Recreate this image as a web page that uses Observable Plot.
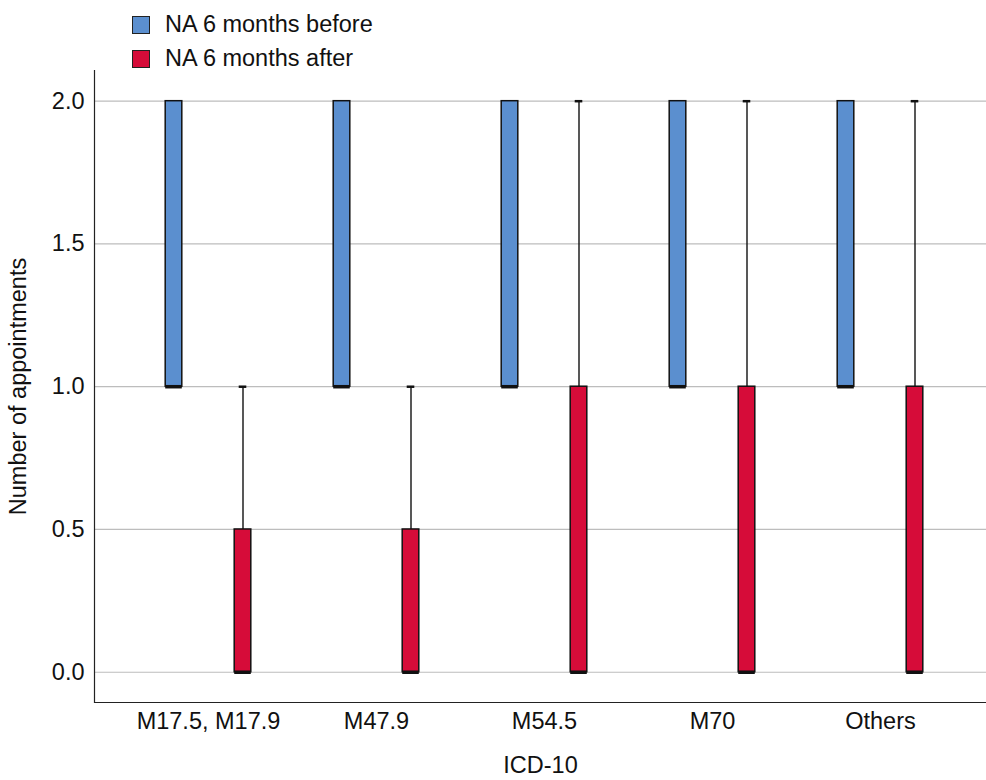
<!DOCTYPE html>
<html>
<head>
<meta charset="utf-8">
<script src="https://cdn.jsdelivr.net/npm/d3@7"></script>
<script src="https://cdn.jsdelivr.net/npm/@observablehq/plot@0.6"></script>
<style>
  html, body { margin: 0; padding: 0; background: #fff; }
  body { width: 986px; height: 780px; overflow: hidden; font-family: "Liberation Sans", Arial, sans-serif; color: #111; }
  #legend { position: relative; height: 62px; }
  .sw { position: absolute; left: 132px; width: 16px; height: 16px; border: 1.5px solid #222; }
  .lt { position: absolute; left: 165px; font-size: 23.5px; line-height: 24px; }
</style>
</head>
<body>
<div id="legend"></div>
<div id="chart"></div>
<script>
const categories = ["M17.5, M17.9", "M47.9", "M54.5", "M70", "Others"];
const seriesNames = ["NA 6 months before", "NA 6 months after"];
const seriesColors = ["#5B8FCF", "#D60C39"];
// box statistics per category
const beforeQ1 = [1, 1, 1, 1, 1];
const beforeMedian = [1, 1, 1, 1, 1];
const beforeQ3 = [2, 2, 2, 2, 2];
const beforeMax = [2, 2, 2, 2, 2];
const afterQ1 = [0, 0, 0, 0, 0];
const afterMedian = [0, 0, 0, 0, 0];
const afterQ3 = [0.5, 0.5, 1, 1, 1];
const afterMax = [1, 1, 2, 2, 2];
const yTicks = [0, 0.5, 1, 1.5, 2];
const xLabel = "ICD-10";
const yLabel = "Number of appointments";

// legend
const legend = document.getElementById("legend");
seriesNames.forEach((name, i) => {
  const sw = document.createElement("div");
  sw.className = "sw";
  sw.style.top = (16 + i * 34) + "px";
  sw.style.background = seriesColors[i];
  legend.appendChild(sw);
  const t = document.createElement("div");
  t.className = "lt";
  t.style.top = (12 + i * 34) + "px";
  t.textContent = name;
  legend.appendChild(t);
});

const series = [
  {q1: beforeQ1, med: beforeMedian, q3: beforeQ3, max: beforeMax},
  {q1: afterQ1, med: afterMedian, q3: afterQ3, max: afterMax}
];

const half = 84.2;      // half band width
const offset = 34.5;    // distance of each box from the band centre
const boxHalf = 8.5;
const capHalf = 4;

const marks = [
  Plot.ruleY(yTicks, {stroke: "#bdbdbd", strokeWidth: 1.2}),
  Plot.ruleY([-0.106], {stroke: "#222", strokeWidth: 1.2}),
  Plot.frame({anchor: "left", stroke: "#222", strokeWidth: 1.2})
];

series.forEach((s, si) => {
  const rows = categories.map((c, i) => ({cat: c, q1: s.q1[i], med: s.med[i], q3: s.q3[i], max: s.max[i]}));
  const dx = si === 0 ? -offset : offset;
  const whisk = rows.filter(r => r.max > r.q3);
  marks.push(
    Plot.ruleX(whisk, {x: "cat", y1: "q3", y2: "max", dx, stroke: "#111", strokeWidth: 1.4}),
    Plot.tickY(whisk, {x: "cat", y: "max", dx, insetLeft: half - capHalf, insetRight: half - capHalf, stroke: "#111", strokeWidth: 2.5}),
    Plot.barY(rows, {x: "cat", y1: "q1", y2: "q3", dx, insetLeft: half - boxHalf, insetRight: half - boxHalf, fill: seriesColors[si], stroke: "#111", strokeWidth: 1.5}),
    Plot.tickY(rows, {x: "cat", y: "med", dx, insetLeft: half - boxHalf, insetRight: half - boxHalf, stroke: "#111", strokeWidth: 3.5})
  );
});

marks.push(
  Plot.axisY({ticks: yTicks, tickFormat: d3.format(".1f"), tickSize: 0, tickPadding: 10, fontSize: 23.5, label: null}),
  Plot.axisX({tickSize: 0, tickPadding: 10, fontSize: 23.5, label: null}),
  Plot.text([xLabel], {frameAnchor: "bottom", lineAnchor: "bottom", dy: 70, fontSize: 23.5, fill: "#111"}),
  Plot.text([yLabel], {frameAnchor: "left", textAnchor: "middle", rotate: -90, dx: -76, fontSize: 23.5, fill: "#111"})
);

const chart = Plot.plot({
  width: 986,
  height: 718,
  marginLeft: 94,
  marginRight: 0,
  marginTop: 8,
  marginBottom: 78,
  style: {fontFamily: "'Liberation Sans', Arial, sans-serif", fontSize: "23.5px", color: "#111", background: "#fff"},
  x: {type: "band", domain: categories, range: [122.8, 964.8], padding: 0},
  y: {domain: [-0.106, 2.1075]},
  marks
});
document.getElementById("chart").appendChild(chart);
</script>
</body>
</html>
